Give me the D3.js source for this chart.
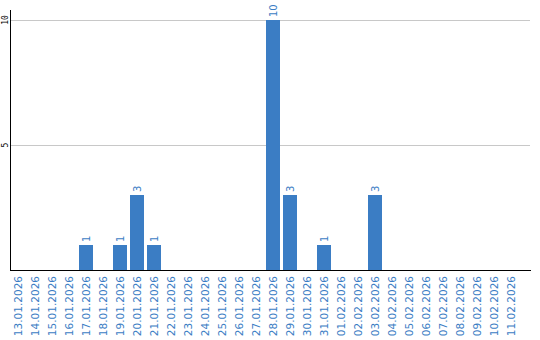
<!DOCTYPE html>
<html><head><meta charset="utf-8">
<script src="https://cdn.jsdelivr.net/npm/d3@7"></script>
<style>body{margin:0;background:#fff}svg{display:block}</style>
</head><body>
<script>
const dates = ["13.01.2026","14.01.2026","15.01.2026","16.01.2026","17.01.2026","18.01.2026","19.01.2026","20.01.2026","21.01.2026","22.01.2026","23.01.2026","24.01.2026","25.01.2026","26.01.2026","27.01.2026","28.01.2026","29.01.2026","30.01.2026","31.01.2026","01.02.2026","02.02.2026","03.02.2026","04.02.2026","05.02.2026","06.02.2026","07.02.2026","08.02.2026","09.02.2026","10.02.2026","11.02.2026"];
const values = [0,0,0,0,1,0,1,3,1,0,0,0,0,0,0,10,3,0,1,0,0,3,0,0,0,0,0,0,0,0];
const yTicks = [5,10];

const W=540,H=340;
const svg=d3.select("body").append("svg").attr("width",W).attr("height",H);
const x=d3.scaleBand().domain(dates).range([11,518]).paddingInner(3/17).paddingOuter(0);
const y=d3.scaleLinear().domain([0,10]).range([270,20]);
const blue="#3b7dc4";

svg.selectAll("line.grid").data(yTicks).enter().append("line")
  .attr("x1",11).attr("x2",530).attr("y1",d=>y(d)+0.5).attr("y2",d=>y(d)+0.5)
  .attr("stroke","#c8c8c8").attr("stroke-width",1);

svg.selectAll("text.yt").data(yTicks).enter().append("text")
  .attr("transform",d=>`translate(5.5,${y(d)}) rotate(-90)`)
  .attr("text-anchor","middle").attr("dy","0.35em")
  .style("font","8px 'DejaVu Sans Mono', monospace").attr("fill","#000")
  .text(d=>d);

const data=dates.map((d,i)=>({d,v:values[i]}));
svg.selectAll("rect").data(data.filter(e=>e.v>0)).enter().append("rect")
  .attr("x",e=>x(e.d)).attr("width",x.bandwidth())
  .attr("y",e=>y(e.v)).attr("height",e=>y(0)-y(e.v)).attr("fill",blue);

svg.selectAll("text.val").data(data.filter(e=>e.v>0)).enter().append("text")
  .attr("transform",e=>`translate(${x(e.d)+x.bandwidth()/2},${y(e.v)-3}) rotate(-90)`)
  .attr("text-anchor","start").attr("dy","0.35em")
  .style("font","10px 'DejaVu Sans', sans-serif").attr("fill",blue)
  .text(e=>e.v);

svg.append("line").attr("x1",10.5).attr("x2",10.5).attr("y1",10).attr("y2",270).attr("stroke","#000");
svg.append("line").attr("x1",10).attr("x2",531).attr("y1",270.5).attr("y2",270.5).attr("stroke","#000");

svg.selectAll("text.xl").data(dates).enter().append("text")
  .attr("transform",d=>`translate(${x(d)+x.bandwidth()/2},276) rotate(-90)`)
  .attr("text-anchor","end").attr("dy","0.35em")
  .style("font","10.5px 'DejaVu Sans', sans-serif").attr("fill",blue)
  .text(d=>d);
</script>
</body></html>
